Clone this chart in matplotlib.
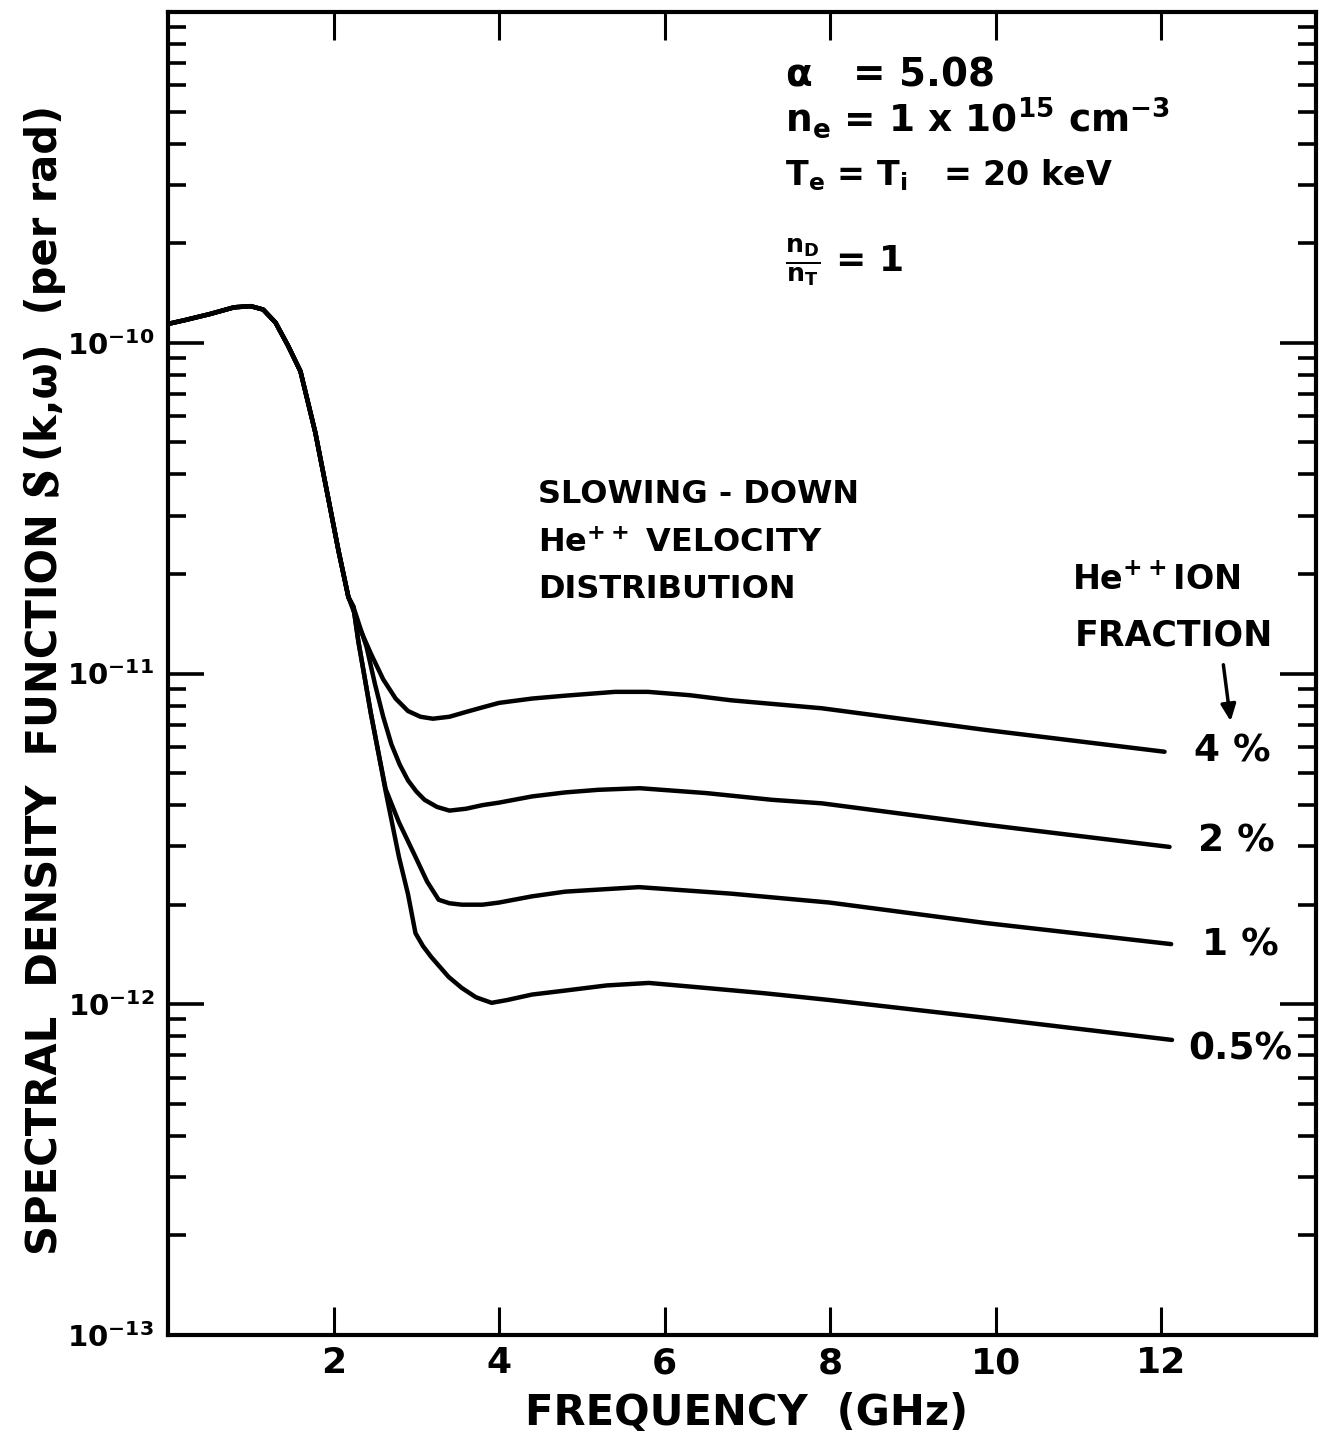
import matplotlib
matplotlib.use("Agg")
import matplotlib.pyplot as plt
import matplotlib.patheffects as pe
from matplotlib.ticker import FixedLocator, LogLocator, NullFormatter, FixedFormatter

plt.rcParams['font.family'] = ['DejaVu Sans']
plt.rcParams['font.weight'] = 'bold'
plt.rcParams['mathtext.fontset'] = 'dejavusans'
plt.rcParams['mathtext.default'] = 'regular'

# values: frequency (GHz), spectral density (per rad)
trunk_freq = [0.0, 0.2, 0.5, 0.8, 1.0, 1.15, 1.3, 1.45, 1.6, 1.78, 1.94, 2.06, 2.18]
trunk_sdf = [1.14e-10, 1.17e-10, 1.22e-10, 1.28e-10, 1.29e-10, 1.26e-10, 1.15e-10, 9.8e-11,
             8.2e-11, 5.35e-11, 3.35e-11, 2.35e-11, 1.7e-11]

freq_4 = [2.24, 2.3, 2.45, 2.6, 2.75, 2.9, 3.05, 3.2, 3.4, 3.6, 3.8, 4.0, 4.4, 4.8, 5.4, 5.8,
          6.3, 6.8, 7.9, 9.88, 12.04]
sdf_4 = [1.55e-11, 1.4e-11, 1.15e-11, 9.6e-12, 8.4e-12, 7.7e-12, 7.4e-12, 7.3e-12, 7.4e-12,
         7.65e-12, 7.9e-12, 8.15e-12, 8.4e-12, 8.57e-12, 8.8e-12, 8.8e-12, 8.6e-12, 8.3e-12,
         7.85e-12, 6.75e-12, 5.8e-12]

freq_2 = [2.24, 2.32, 2.40, 2.5, 2.6, 2.7, 2.8, 2.9, 3.0, 3.1, 3.25, 3.4, 3.6, 3.8, 4.0, 4.4,
          4.8, 5.2, 5.7, 6.5, 7.3, 7.9, 9.88, 12.1]
sdf_2 = [1.59e-11, 1.38e-11, 1.2e-11, 9.3e-12, 7.4e-12, 6.1e-12, 5.3e-12, 4.75e-12, 4.4e-12,
         4.15e-12, 3.95e-12, 3.85e-12, 3.9e-12, 4.0e-12, 4.07e-12, 4.25e-12, 4.37e-12, 4.45e-12,
         4.5e-12, 4.35e-12, 4.15e-12, 4.05e-12, 3.49e-12, 2.99e-12]

freq_1 = [2.24, 2.3, 2.38, 2.45, 2.54, 2.63, 2.79, 2.99, 3.13, 3.27, 3.4, 3.55, 3.8, 4.0, 4.4,
          4.8, 5.69, 6.8, 7.99, 9.88, 12.12]
sdf_1 = [1.59e-11, 1.25e-11, 9.6e-12, 7.6e-12, 5.8e-12, 4.47e-12, 3.55e-12, 2.79e-12, 2.35e-12,
         2.07e-12, 2.02e-12, 2.0e-12, 2.0e-12, 2.03e-12, 2.12e-12, 2.19e-12, 2.26e-12, 2.16e-12,
         2.03e-12, 1.76e-12, 1.52e-12]

freq_05 = [2.24, 2.3, 2.38, 2.45, 2.54, 2.63, 2.79, 2.9, 2.99, 3.08, 3.18, 3.39, 3.55, 3.72,
           3.91, 4.1, 4.4, 4.8, 5.3, 5.81, 6.5, 7.2, 7.99, 9.88, 12.13]
sdf_05 = [1.59e-11, 1.25e-11, 9.6e-12, 7.6e-12, 5.8e-12, 4.4e-12, 2.79e-12, 2.15e-12, 1.64e-12,
          1.5e-12, 1.39e-12, 1.21e-12, 1.12e-12, 1.05e-12, 1.01e-12, 1.03e-12, 1.07e-12,
          1.10e-12, 1.14e-12, 1.16e-12, 1.12e-12, 1.08e-12, 1.03e-12, 9.1e-13, 7.8e-13]

x_ticks = [2, 4, 6, 8, 10, 12]
y_ticks = [1e-13, 1e-12, 1e-11, 1e-10]
y_tick_labels = [r'$10^{-13}$', r'$10^{-12}$', r'$10^{-11}$', r'$10^{-10}$']

W, H = 1326, 1437
fig = plt.figure(figsize=(W / 100, H / 100), dpi=100)
ax = fig.add_axes([168 / W, 1 - 1335 / H, (1316 - 168) / W, (1335 - 12) / H])

for f, s in [(freq_4, sdf_4), (freq_2, sdf_2), (freq_1, sdf_1), (freq_05, sdf_05)]:
    ax.plot(trunk_freq + f, trunk_sdf + s, color='black', lw=3.2,
            solid_capstyle='round', solid_joinstyle='round')

ax.set_yscale('log')
ax.set_xlim(0, 13.87)
ax.set_ylim(1e-13, 1e-9)

ax.xaxis.set_major_locator(FixedLocator(x_ticks))
ax.set_xticklabels([str(t) for t in x_ticks])
ax.yaxis.set_major_locator(FixedLocator(y_ticks))
ax.yaxis.set_major_formatter(FixedFormatter(y_tick_labels))
ax.yaxis.set_minor_locator(LogLocator(base=10, subs=range(2, 10)))
ax.yaxis.set_minor_formatter(NullFormatter())

ax.tick_params(axis='x', which='major', direction='in', length=20, width=2.2,
               top=True, labelsize=26, pad=8)
ax.tick_params(axis='y', which='major', direction='in', length=26, width=2.6,
               right=True, labelsize=21, pad=10)
ax.tick_params(axis='y', which='minor', direction='in', length=13, width=2.6, right=True)
for sp in ax.spines.values():
    sp.set_linewidth(3)


def px(x, y):
    return x / W, 1 - y / H


fig.text(*px(747, 1413), 'FREQUENCY  (GHz)', fontsize=30, fontweight='bold',
         ha='center', va='center')

# y label in pieces so the script S can come from the STIX fonts
renderer = fig.canvas.get_renderer()
y_cursor = 1255
ylabel_parts = [
    ('SPECTRAL  DENSITY  FUNCTION', {}, 16),
    (r'$\mathscr{S}$', dict(math_fontfamily='stix', fontweight='normal', fontsize=34,
                            path_effects=[pe.withStroke(linewidth=1.6, foreground='black')]), 10),
    ('(k,ω)  (per rad)', {}, 0),
]
for label, kw, gap in ylabel_parts:
    opts = dict(fontsize=30, fontweight='bold')
    opts.update(kw)
    t = fig.text(*px(57, y_cursor), label, rotation=90, rotation_mode='anchor',
                 ha='left', va='baseline', **opts)
    y_cursor -= t.get_window_extent(renderer).height + gap

# parameters block
fig.text(*px(785, 75), r'$\alpha$   = 5.08', fontsize=28, va='center')
fig.text(*px(785, 118), r'$n_e$ = 1 x $10^{15}$ cm$^{-3}$', fontsize=27, va='center')
fig.text(*px(785, 175), r'$T_e$ = $T_i$   = 20 keV', fontsize=24, va='center')
fig.text(*px(785, 262), r'$\frac{n_D}{n_T}$ = 1', fontsize=26, va='center')

fig.text(*px(538, 494), 'SLOWING - DOWN', fontsize=23, va='center')
fig.text(*px(538, 543), r'He$^{++}$ VELOCITY', fontsize=23, va='center')
fig.text(*px(538, 589), 'DISTRIBUTION', fontsize=23, va='center')

fig.text(*px(1072, 580), r'He$^{++}$ION', fontsize=24, va='center')
fig.text(*px(1075, 636), 'FRACTION', fontsize=25, va='center')
ax.annotate('', xy=px(1231, 724), xycoords='figure fraction',
            xytext=px(1223, 662), textcoords='figure fraction',
            arrowprops=dict(arrowstyle='-|>,head_length=1.0,head_width=0.45',
                            color='black', lw=2.5))

fig.text(*px(1232, 752), '4 %', fontsize=27, va='center', ha='center')
fig.text(*px(1236, 842), '2 %', fontsize=27, va='center', ha='center')
fig.text(*px(1240, 946), '1 %', fontsize=27, va='center', ha='center')
fig.text(*px(1240, 1050), '0.5%', fontsize=27, va='center', ha='center')

fig.savefig('out.png', dpi=100)
